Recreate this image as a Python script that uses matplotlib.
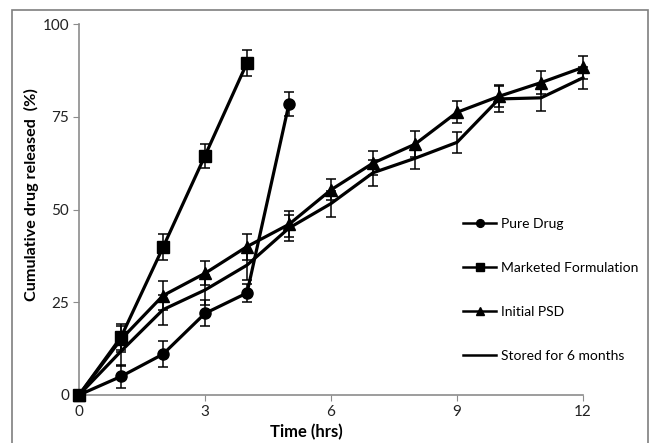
import numpy as np
import matplotlib
matplotlib.use('Agg')
import matplotlib.pyplot as plt
from matplotlib.patches import Rectangle

plt.rcParams['font.family'] = ['Lato', 'DejaVu Sans']

# datos
t_pure = [0, 1, 2, 3, 4, 5]
pure = [0, 5, 11, 22, 27.5, 78.5]
pure_err = [0, 3, 3.5, 3.5, 2.5, 3.2]

t_mkt = [0, 1, 2, 3, 4]
mkt = [0, 15.6, 39.8, 64.5, 89.5]
mkt_err = [0, 3.5, 3.5, 3.2, 3.5]

t_psd = [0, 1, 2, 3, 4, 5, 6, 7, 8, 9, 10, 11, 12]
psd = [0, 15, 26.8, 32.8, 40, 46, 55.3, 62.5, 67.6, 76.2, 80.5, 84.2, 88.3]
psd_err = [0, 3.5, 3.8, 3.2, 3.5, 3.5, 2.8, 3.2, 3.5, 3, 3, 3, 3]

stored = [0, 11.8, 23, 28.3, 35, 45, 51.6, 59.9, 63.8, 68.1, 79.8, 80.1, 85.5]
stored_err = [0, 4, 4, 4, 4, 3.5, 3.5, 3.5, 3, 2.8, 3.5, 3.5, 3]

fig = plt.figure(figsize=(6.49, 4.43), dpi=100)
fig.patches.append(Rectangle((12/649, -0.01), 636/649, 1 - 10/443 + 0.01,
                             transform=fig.transFigure, fill=False,
                             edgecolor='#7f7f7f', linewidth=1.2))
ax = fig.add_axes([79/649, 1 - 395/443, 504/649, 371/443])

kw = dict(color='black', linewidth=2.3, ecolor='black', elinewidth=1.1,
          capsize=3.5, capthick=1.1, clip_on=False)
ax.errorbar(t_pure, pure, yerr=pure_err, marker='o', markersize=8,
            label='Pure Drug', zorder=4, **kw)
ax.errorbar(t_mkt, mkt, yerr=mkt_err, marker='s', markersize=8.5,
            label='Marketed Formulation', zorder=4, **kw)
ax.errorbar(t_psd, psd, yerr=psd_err, marker='^', markersize=8,
            label='Initial PSD', zorder=3, **kw)
ax.errorbar(t_psd, stored, yerr=stored_err, marker=None,
            label='Stored for 6 months', zorder=3, **kw)

ax.set_xlim(0, 12)
ax.set_ylim(0, 100)
ax.set_xticks([0, 3, 6, 9, 12])
ax.set_yticks([0, 25, 50, 75, 100])
for s in ['top', 'right']:
    ax.spines[s].set_visible(False)
for s in ['left', 'bottom']:
    ax.spines[s].set_color('#8c8c8c')
    ax.spines[s].set_linewidth(1.2)
ax.tick_params(direction='out', length=4, color='#8c8c8c', labelsize=11,
               labelcolor='#222222', pad=3)

ax.set_xlabel('Time (hrs)', fontsize=12, fontweight='bold')
ax.xaxis.set_label_coords(0.452, -0.078)
ax.set_ylabel('Cumulative drug released  (%)', fontsize=11.6,
              fontweight='bold')
ax.yaxis.set_label_coords(-0.08, 0.539)

handles, labels = ax.get_legend_handles_labels()
handles = [h[0] for h in handles]
leg = ax.legend(handles, labels, loc='center left',
                bbox_to_anchor=((463 - 79) / 504, 0.283), frameon=False,
                fontsize=10, labelspacing=2.3, handlelength=2.4,
                handletextpad=0.35, borderpad=0, borderaxespad=0,
                markerscale=0.7)
for ln in leg.get_lines():
    ln.set_linewidth(1.8)

fig.savefig('out.png', dpi=100)
